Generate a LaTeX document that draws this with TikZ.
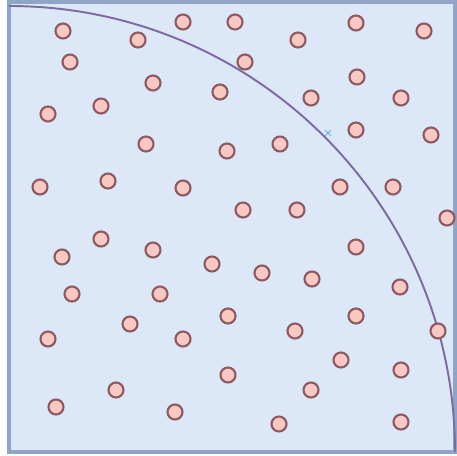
\documentclass[tikz,border=0pt]{standalone}
\usepackage{tikz}
\definecolor{fieldblue}{HTML}{DCE8F8}
\definecolor{frameblue}{HTML}{8FA4C6}
\definecolor{arcpurple}{HTML}{7D6A9E}
\definecolor{dotpink}{HTML}{F9C8C2}
\definecolor{dotbrown}{HTML}{8C5A60}
\definecolor{markcyan}{HTML}{5BB4E2}
\tikzset{
  field/.style   = {fill=fieldblue, draw=frameblue, line width=1.8pt},
  quarter/.style = {arcpurple, line width=1.1pt},
  dot/.style     = {circle, draw=dotbrown, fill=dotpink, line width=1.2pt,
                    inner sep=0pt, minimum size=0.3cm},
  hit mark/.style = {markcyan, line width=0.6pt},
}

\begin{document}
\begin{tikzpicture}[x=0.02cm, y=-0.02cm]
      \useasboundingbox (0,0) rectangle (457,456);
      \fill[white] (0,0) rectangle (457,456);
      \draw[field] (9,2) rectangle (455,452);
      \draw[quarter] (9,6) arc[start angle=-90, end angle=0, radius=446];
      % sample points
      \foreach \px/\py [count=\i] in {
        63/31, 138/40, 183/22, 235/22, 298/40, 356/23, 424/31,
        70/62, 245/62,
        153/83, 220/92, 311/98, 357/77, 401/98,
        48/114, 101/106,
        146/144, 227/151, 280/144, 356/130, 431/135,
        40/187, 108/181, 183/188, 340/187, 393/187,
        243/210, 297/210, 447/218,
        101/239, 62/257, 153/250, 356/247,
        212/264, 262/273, 312/279,
        72/294, 160/294, 400/287,
        228/316, 130/324, 356/316,
        48/339, 183/339, 295/331, 438/331,
        341/360, 228/375, 401/370,
        116/390, 311/390,
        56/407, 175/412, 279/424, 401/422}
        \node[dot] (p\i) at (\px,\py) {};
      \draw[hit mark] (325,130) -- (331,136) (325,136) -- (331,130);
    \end{tikzpicture}
\end{document}
